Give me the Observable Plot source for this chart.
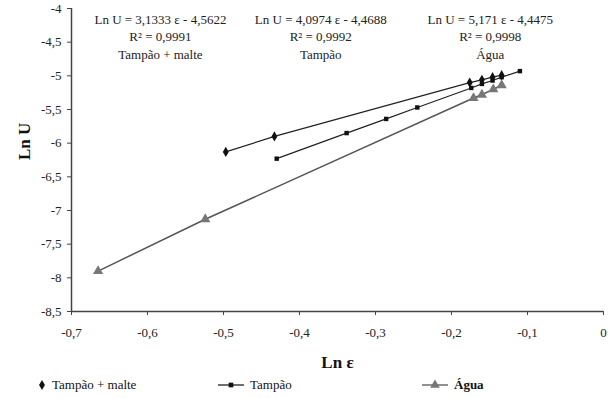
<!DOCTYPE html>
<html>
<head>
<meta charset="utf-8">
<script src="https://cdn.jsdelivr.net/npm/d3@7"></script>
<script src="https://cdn.jsdelivr.net/npm/@observablehq/plot@0.6"></script>
<style>
  html, body { margin: 0; padding: 0; background: #fff; }
  #chart { width: 614px; }
  .legend { display: flex; height: 23px; align-items: center; font-family: "Liberation Serif", "Times New Roman", serif; font-size: 13px; color: #111; position: relative; }
  .legend .item { position: absolute; display: flex; align-items: center; top: 2px; }
  .legend svg { margin-right: 4px; }
</style>
</head>
<body>
<div id="chart"></div>
<script>
// Series data (Ln ε, Ln U)
const malteX = [-0.497, -0.433, -0.176, -0.160, -0.146, -0.134];
const malteY = [-6.13, -5.90, -5.10, -5.06, -5.02, -4.99];
const tampaoX = [-0.430, -0.338, -0.286, -0.245, -0.174, -0.160, -0.146, -0.134, -0.110];
const tampaoY = [-6.23, -5.85, -5.64, -5.47, -5.18, -5.12, -5.07, -5.02, -4.93];
const aguaX = [-0.665, -0.524, -0.171, -0.160, -0.145, -0.134];
const aguaY = [-7.90, -7.13, -5.33, -5.28, -5.20, -5.14];

const seriesNames = ["Tampão + malte", "Tampão", "Água"];
const equations = ["Ln U = 3,1333 ε - 4,5622", "Ln U = 4,0974 ε - 4,4688", "Ln U = 5,171 ε - 4,4475"];
const r2 = ["R² = 0,9991", "R² = 0,9992", "R² = 0,9998"];
const annotX = [-0.583, -0.372, -0.149];
const annotY = [-4.04, -4.04, -4.04];

const xTicks = [-0.7, -0.6, -0.5, -0.4, -0.3, -0.2, -0.1, 0];
const yTicks = [-4, -4.5, -5, -5.5, -6, -6.5, -7, -7.5, -8, -8.5];

const toRows = (xs, ys, s) => xs.map((x, i) => ({x, y: ys[i], s}));
const malte = toRows(malteX, malteY, seriesNames[0]);
const tampao = toRows(tampaoX, tampaoY, seriesNames[1]);
const agua = toRows(aguaX, aguaY, seriesNames[2]);
const annots = seriesNames.map((s, i) => ({x: annotX[i], y: annotY[i], text: equations[i] + "\n" + r2[i] + "\n" + s}));

const fmt = d => d === 0 ? "0" : String(d).replace(".", ",");
const font = "Liberation Serif, Times New Roman, serif";

const plot = Plot.plot({
  width: 614,
  height: 375,
  marginLeft: 71,
  marginRight: 11,
  marginTop: 8,
  marginBottom: 64,
  style: {fontFamily: font, fontSize: "13px", color: "#222", background: "#fff"},
  x: {domain: [-0.7, 0]},
  y: {domain: [-8.5, -4]},
  marks: [
    Plot.ruleX([-0.7], {stroke: "#444", strokeWidth: 1.5}),
    Plot.ruleY([-8.5], {stroke: "#444", strokeWidth: 1.5}),
    Plot.axisX({ticks: xTicks, tickFormat: fmt, tickSize: 4, tickPadding: 12, label: null, fontSize: 13, stroke: "#444"}),
    Plot.axisY({ticks: yTicks, tickFormat: fmt, tickSize: 4, tickPadding: 6, label: null, fontSize: 13, stroke: "#444"}),
    Plot.text(["Ln ε"], {frameAnchor: "bottom", dy: 56, fontWeight: "bold", fontSize: 17, fill: "#111"}),
    Plot.text(["Ln U"], {frameAnchor: "left", dx: -47, rotate: -90, fontWeight: "bold", fontSize: 17, fill: "#111"}),
    Plot.line(agua, {x: "x", y: "y", stroke: "#555", strokeWidth: 1.5}),
    Plot.line(tampao, {x: "x", y: "y", stroke: "#222", strokeWidth: 1.2}),
    Plot.line(malte, {x: "x", y: "y", stroke: "#222", strokeWidth: 1.2}),
    Plot.dot(agua, {x: "x", y: "y", symbol: "triangle", r: 3.8, fill: "#777"}),
    Plot.dot(tampao, {x: "x", y: "y", symbol: "square", r: 2.5, fill: "#111"}),
    Plot.dot(malte, {x: "x", y: "y", symbol: "diamond", r: 3.1, fill: "#111"}),
    Plot.text(annots, {x: "x", y: "y", text: "text", lineAnchor: "top", lineHeight: 1.35, fontSize: 13, fill: "#222"})
  ]
});
document.getElementById("chart").appendChild(plot);

// Legend below the SVG
const legend = d3.select("#chart").append("div").attr("class", "legend");
const legendLeft = [36, 216, 420];
seriesNames.forEach((name, i) => {
  const item = legend.append("div").attr("class", "item").style("left", legendLeft[i] + "px");
  const sv = item.append("svg").attr("width", i === 0 ? 12 : 30).attr("height", 12);
  const cx = i === 0 ? 6 : 15;
  if (i > 0) sv.append("line").attr("x1", 2).attr("x2", 28).attr("y1", 6).attr("y2", 6).attr("stroke", i === 2 ? "#555" : "#222").attr("stroke-width", 1.3);
  const sym = [d3.symbolDiamond, d3.symbolSquare, d3.symbolTriangle][i];
  const size = [30, 22, 40][i];
  sv.append("path").attr("d", d3.symbol(sym, size)()).attr("transform", `translate(${cx},6)`).attr("fill", i === 2 ? "#777" : "#111");
  item.append("span").text(name).style("font-weight", i === 2 ? "bold" : "normal");
});
</script>
</body>
</html>
